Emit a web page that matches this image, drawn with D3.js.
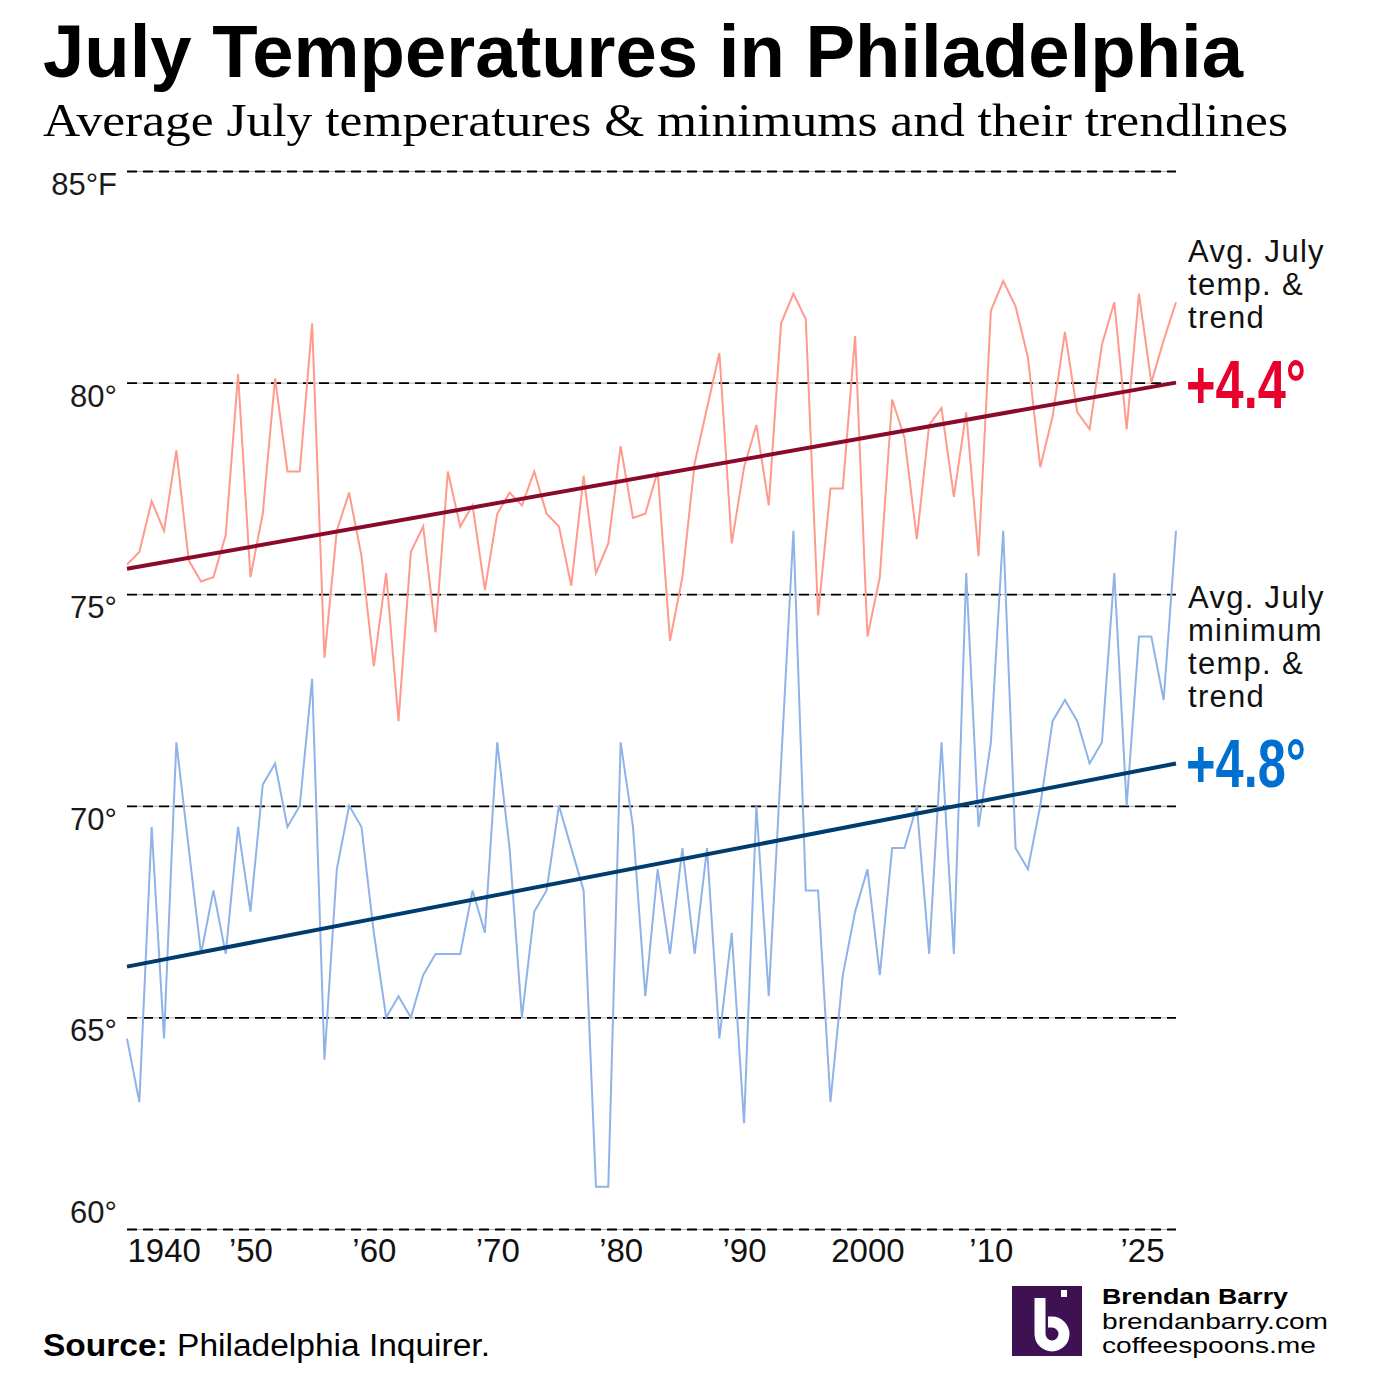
<!DOCTYPE html>
<html>
<head>
<meta charset="utf-8">
<script src="https://cdnjs.cloudflare.com/ajax/libs/d3/7.8.5/d3.min.js"></script>
<style>
  body { margin: 0; background: #fff; }
  text { font-family: "Liberation Sans", "DejaVu Sans", sans-serif; }
</style>
</head>
<body>
<script>
// values, 1940 .. 2025
const years = d3.range(1940, 2026);
const avgTemp = [75.7, 76.0, 77.2, 76.5, 78.4, 75.8, 75.3, 75.4, 76.4, 80.2,
  75.4, 76.9, 80.1, 77.9, 77.9, 81.4, 73.5, 76.5, 77.4, 75.9,
  73.3, 75.5, 72.0, 76.0, 76.6, 74.1, 77.9, 76.6, 77.1, 75.1,
  76.9, 77.4, 77.1, 77.9, 76.9, 76.6, 75.2, 77.8, 75.5, 76.2,
  78.5, 76.8, 76.9, 77.9, 73.9, 75.4, 78.1, 79.4, 80.7, 76.2,
  78.0, 79.0, 77.1, 81.4, 82.1, 81.5, 74.5, 77.5, 77.5, 81.1,
  74.0, 75.4, 79.6, 78.7, 76.3, 79.0, 79.4, 77.3, 79.3, 75.9,
  81.7, 82.4, 81.8, 80.6, 78.0, 79.2, 81.2, 79.3, 78.9, 80.9,
  81.9, 78.9, 82.1, 80.0, 81.0, 81.9];
const minTemp = [64.5, 63.0, 69.5, 64.5, 71.5, 69.0, 66.5, 68.0, 66.5, 69.5,
  67.5, 70.5, 71.0, 69.5, 70.0, 73.0, 64.0, 68.5, 70.0, 69.5,
  67.0, 65.0, 65.5, 65.0, 66.0, 66.5, 66.5, 66.5, 68.0, 67.0,
  71.5, 69.0, 65.0, 67.5, 68.0, 70.0, 69.0, 68.0, 61.0, 61.0,
  71.5, 69.5, 65.5, 68.5, 66.5, 69.0, 66.5, 69.0, 64.5, 67.0,
  62.5, 70.0, 65.5, 71.0, 76.5, 68.0, 68.0, 63.0, 66.0, 67.5,
  68.5, 66.0, 69.0, 69.0, 70.0, 66.5, 71.5, 66.5, 75.5, 69.5,
  71.5, 76.5, 69.0, 68.5, 70.0, 72.0, 72.5, 72.0, 71.0, 71.5,
  75.5, 70.0, 74.0, 74.0, 72.5, 76.5];
// trendline ends (1940, 2025)
const trendYears = [1940, 2025];
const avgTrend = [75.6, 80.0];
const minTrend = [66.2, 71.0];

const yTicks = [60, 65, 70, 75, 80, 85];
const yLabels = ["60°", "65°", "70°", "75°", "80°", "85°F"];
const xTicks = [1940, 1950, 1960, 1970, 1980, 1990, 2000, 2010, 2025];
const xLabels = ["1940", "’50", "’60", "’70", "’80", "’90", "2000", "’10", "’25"];

const W = 1375, H = 1375;
const svg = d3.select("body").append("svg")
  .attr("width", W).attr("height", H);

const x = d3.scaleLinear().domain([1940, 2025]).range([127, 1176]);
const y = d3.scaleLinear().domain([60, 85]).range([1229, 171]);

// title + subtitle
svg.append("text")
  .attr("x", 43).attr("y", 77)
  .attr("textLength", 1200).attr("lengthAdjust", "spacingAndGlyphs")
  .style("font-size", "75px").style("font-weight", 700)
  .text("July Temperatures in Philadelphia");

svg.append("text")
  .attr("x", 43).attr("y", 136)
  .attr("textLength", 1245).attr("lengthAdjust", "spacingAndGlyphs")
  .style("font-family", "'Liberation Serif', 'DejaVu Serif', serif")
  .style("font-size", "47px")
  .text("Average July temperatures & minimums and their trendlines");

// grid: grey hairline with black dashes over it
const grid = svg.append("g").attr("transform", "translate(127,0)")
  .call(d3.axisRight(y).tickValues(yTicks).tickSize(1049).tickFormat(""));
grid.select(".domain").remove();
grid.selectAll(".tick line")
  .attr("stroke", "#000").attr("stroke-width", 1.8)
  .attr("stroke-dasharray", "10,6");
grid.selectAll(".tick").insert("line", "line")
  .attr("x2", 1049).attr("stroke", "#aaa").attr("stroke-width", 1);

// y labels
svg.append("g").selectAll("text")
  .data(yTicks)
  .join("text")
  .attr("x", 117)
  .attr("y", d => d === 60 ? y(d) - 6 : y(d) + 24)
  .attr("text-anchor", "end")
  .style("font-size", "31px").style("fill", "#1a1a1a")
  .text((d, i) => yLabels[i]);

// x axis labels
const xAxis = svg.append("g").attr("transform", "translate(0,1236)")
  .call(d3.axisBottom(x).tickValues(xTicks).tickSize(0)
    .tickFormat((d, i) => xLabels[i]));
xAxis.select(".domain").remove();
xAxis.selectAll("text")
  .style("font-family", "'Liberation Sans Narrow', 'Liberation Sans', sans-serif")
  .style("font-size", "33px").style("fill", "#111")
  .attr("text-anchor", (d, i) => i === 0 ? "start" : (i === xTicks.length - 1 ? "end" : "middle"))
  .attr("dx", (d, i) => i === xTicks.length - 1 ? -12 : 0)
  .attr("dy", "0.71em");

// lines
const line = d3.line().x((d, i) => x(years[i])).y(d => y(d));
svg.append("path").datum(minTemp)
  .attr("fill", "none").attr("stroke", "#8fb3e8").attr("stroke-width", 2)
  .attr("d", line);
svg.append("path").datum(avgTemp)
  .attr("fill", "none").attr("stroke", "#ff9a8d").attr("stroke-width", 2)
  .attr("d", line);

const tline = d3.line().x((d, i) => x(trendYears[i])).y(d => y(d));
svg.append("path").datum(avgTrend)
  .attr("fill", "none").attr("stroke", "#8a0a2b").attr("stroke-width", 4)
  .attr("d", tline);
svg.append("path").datum(minTrend)
  .attr("fill", "none").attr("stroke", "#003c6e").attr("stroke-width", 4)
  .attr("d", tline);

// right labels
function block(lines, y0) {
  const t = svg.append("text").attr("x", 1188).attr("y", y0)
    .style("font-size", "31px").style("letter-spacing", "1.3px").style("fill", "#111");
  lines.forEach((l, i) => t.append("tspan").attr("x", 1188).attr("dy", i ? 33 : 0).text(l));
}
block(["Avg. July", "temp. &", "trend"], 262);
block(["Avg. July", "minimum", "temp. &", "trend"], 608);

svg.append("text").attr("x", 1186).attr("y", 408)
  .attr("textLength", 120).attr("lengthAdjust", "spacingAndGlyphs")
  .style("font-family", "'Liberation Sans Narrow', 'Liberation Sans', sans-serif")
  .style("font-size", "68px").style("font-weight", 700).style("fill", "#e8002d")
  .text("+4.4°");
svg.append("text").attr("x", 1186).attr("y", 787)
  .attr("textLength", 120).attr("lengthAdjust", "spacingAndGlyphs")
  .style("font-family", "'Liberation Sans Narrow', 'Liberation Sans', sans-serif")
  .style("font-size", "68px").style("font-weight", 700).style("fill", "#0070d0")
  .text("+4.8°");

// footer
const src = svg.append("text").attr("x", 43).attr("y", 1356)
  .attr("textLength", 447).attr("lengthAdjust", "spacingAndGlyphs")
  .style("font-size", "31px").style("fill", "#000");
src.append("tspan").style("font-weight", 700).text("Source:");
src.append("tspan").text(" Philadelphia Inquirer.");

const logo = svg.append("g");
logo.append("rect").attr("x", 1012).attr("y", 1286).attr("width", 70).attr("height", 70)
  .attr("fill", "#3d1152");
logo.append("path")
  .attr("d", "M1040,1298 V1334 A12,12 0 1 0 1052,1322 H1048")
  .attr("fill", "none").attr("stroke", "#fff").attr("stroke-width", 11);
logo.append("rect").attr("x", 1061).attr("y", 1290).attr("width", 6).attr("height", 7)
  .attr("fill", "#fff");

const brand = [["Brendan Barry", 700, 186], ["brendanbarry.com", 400, 226], ["coffeespoons.me", 400, 214]];
svg.append("g").selectAll("text")
  .data(brand)
  .join("text")
  .attr("x", 1102)
  .attr("y", (d, i) => 1304 + i * 24.5)
  .attr("textLength", d => d[2]).attr("lengthAdjust", "spacingAndGlyphs")
  .style("font-size", "22px").style("font-weight", d => d[1])
  .text(d => d[0]);
</script>
</body>
</html>
